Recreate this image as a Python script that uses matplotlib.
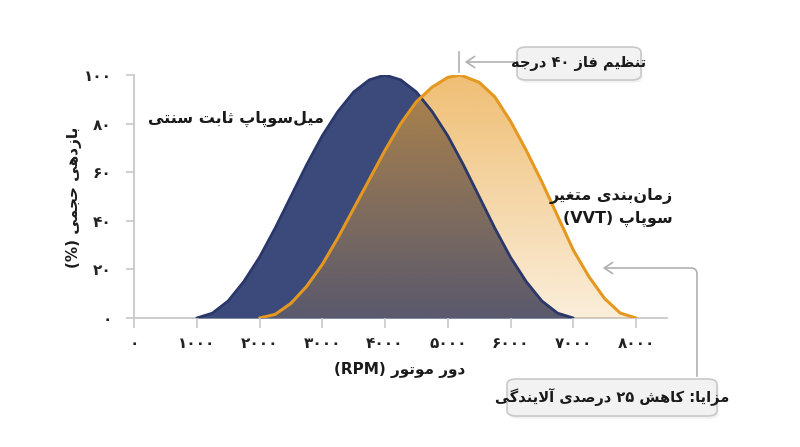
import matplotlib
matplotlib.use("Agg")
import matplotlib.pyplot as plt
import numpy as np
from matplotlib.patches import FancyBboxPatch, Polygon, FancyArrowPatch
from matplotlib.colors import to_rgb

# ---------------- data ----------------
rpm_fixed = [1000,1250,1500,1750,2000,2250,2500,2750,3000,3250,3500,3750,4000,
             4250,4500,4750,5000,5250,5500,5750,6000,6250,6500,6750,7000]
eff_fixed = [0,2,7,15,25,37,50,63,75,85,93,98,100,98,93,85,75,63,50,37,25,15,7,2,0]
rpm_vvt = [2000,2250,2500,2750,3000,3250,3500,3750,4000,4250,4500,4750,5000,5200,
           5500,5750,6000,6250,6500,6750,7000,7250,7500,7750,8000]
eff_vvt = [0,1.5,6,13,22,33,45,57,69,80,89,95,99,100,97,91,81,69,56,42,28,17,8,2,0]
x_ticks = [0,1000,2000,3000,4000,5000,6000,7000,8000]
y_ticks = [0,20,40,60,80,100]

# ---------------- minimal Persian shaping ----------------
FORMS = {
 '\u0627':('\uFE8D','\uFE8E',None,None), '\u0622':('\uFE81','\uFE82',None,None),
 '\u0628':('\uFE8F','\uFE90','\uFE91','\uFE92'), '\u067E':('\uFB56','\uFB57','\uFB58','\uFB59'),
 '\u062A':('\uFE95','\uFE96','\uFE97','\uFE98'), '\u062B':('\uFE99','\uFE9A','\uFE9B','\uFE9C'),
 '\u062C':('\uFE9D','\uFE9E','\uFE9F','\uFEA0'), '\u0686':('\uFB7A','\uFB7B','\uFB7C','\uFB7D'),
 '\u062D':('\uFEA1','\uFEA2','\uFEA3','\uFEA4'), '\u062E':('\uFEA5','\uFEA6','\uFEA7','\uFEA8'),
 '\u062F':('\uFEA9','\uFEAA',None,None), '\u0630':('\uFEAB','\uFEAC',None,None),
 '\u0631':('\uFEAD','\uFEAE',None,None), '\u0632':('\uFEAF','\uFEB0',None,None),
 '\u0698':('\uFB8A','\uFB8B',None,None),
 '\u0633':('\uFEB1','\uFEB2','\uFEB3','\uFEB4'), '\u0634':('\uFEB5','\uFEB6','\uFEB7','\uFEB8'),
 '\u0635':('\uFEB9','\uFEBA','\uFEBB','\uFEBC'), '\u0636':('\uFEBD','\uFEBE','\uFEBF','\uFEC0'),
 '\u0637':('\uFEC1','\uFEC2','\uFEC3','\uFEC4'), '\u0638':('\uFEC5','\uFEC6','\uFEC7','\uFEC8'),
 '\u0639':('\uFEC9','\uFECA','\uFECB','\uFECC'), '\u063A':('\uFECD','\uFECE','\uFECF','\uFED0'),
 '\u0641':('\uFED1','\uFED2','\uFED3','\uFED4'), '\u0642':('\uFED5','\uFED6','\uFED7','\uFED8'),
 '\u06A9':('\uFB8E','\uFB8F','\uFB90','\uFB91'), '\u06AF':('\uFB92','\uFB93','\uFB94','\uFB95'),
 '\u0644':('\uFEDD','\uFEDE','\uFEDF','\uFEE0'), '\u0645':('\uFEE1','\uFEE2','\uFEE3','\uFEE4'),
 '\u0646':('\uFEE5','\uFEE6','\uFEE7','\uFEE8'), '\u0648':('\uFEED','\uFEEE',None,None),
 '\u0647':('\uFEE9','\uFEEA','\uFEEB','\uFEEC'), '\u06CC':('\uFBFC','\uFBFD','\uFBFE','\uFBFF'),
}
LAMALEF = {'\u0627':('\uFEFB','\uFEFC'), '\u0622':('\uFEF5','\uFEF6')}

def shape(s):
    chars = list(s)
    out = []
    i = 0
    n = len(chars)
    def joins_next(c):
        return c in FORMS and FORMS[c][2] is not None
    while i < n:
        c = chars[i]
        if c not in FORMS:
            if c != '\u200C':
                out.append(c)
            i += 1
            continue
        prev = chars[i-1] if i > 0 else None
        pj = prev is not None and joins_next(prev)
        if c == '\u0644' and i + 1 < n and chars[i+1] in LAMALEF:
            out.append(LAMALEF[chars[i+1]][1 if pj else 0])
            i += 2
            continue
        nxt = chars[i+1] if i + 1 < n else None
        nj = nxt in FORMS and FORMS[c][2] is not None
        iso, fin, ini, med = FORMS[c]
        if pj and nj: out.append(med)
        elif pj: out.append(fin)
        elif nj: out.append(ini)
        else: out.append(iso)
        i += 1
    rev = out[::-1]
    def is_ltr(ch):
        return ch.isascii() and ch.isalnum() or ('\u06F0' <= ch <= '\u06F9')
    res = []
    j = 0
    while j < len(rev):
        if is_ltr(rev[j]):
            k = j
            while k < len(rev) and is_ltr(rev[k]):
                k += 1
            res.extend(rev[j:k][::-1])
            j = k
        else:
            ch = rev[j]
            res.append({'(':')', ')':'('}.get(ch, ch))
            j += 1
    return ''.join(res)

def fa_digits(v):
    return str(v).translate(str.maketrans('0123456789', '۰۱۲۳۴۵۶۷۸۹'))

plt.rcParams['font.family'] = ['DejaVu Sans']

W, H = 800, 447
fig = plt.figure(figsize=(8, 4.47), dpi=100)
ax = fig.add_axes([134/W, 1-318/H, (667-134)/W, (318-75)/H])
ax.set_xlim(0, 8494)
ax.set_ylim(0, 100)

navy = '#3b4a7a'
orange = '#e8a032'

ax.fill_between(rpm_fixed, eff_fixed, 0, color=navy, lw=0, zorder=1)

# orange fill with alpha gradient, on top of navy
verts = list(zip(rpm_vvt, eff_vvt))
poly = Polygon(verts, closed=True, facecolor='none', edgecolor='none')
ax.add_patch(poly)
rgba = np.zeros((256, 1, 4))
rgba[..., :3] = to_rgb(orange)
rgba[:, 0, 3] = np.linspace(0.18, 0.68, 256)
im = ax.imshow(rgba, extent=[2000, 8000, 0, 100], origin='lower',
               aspect='auto', zorder=2, interpolation='bilinear')
im.set_clip_path(poly)

ax.plot(rpm_fixed, eff_fixed, color='#2a376a', lw=2, zorder=3, solid_capstyle='round')
ax.plot(rpm_vvt, eff_vvt, color='#e5981f', lw=2.2, zorder=4, solid_capstyle='round')

for sp in ['top', 'right']:
    ax.spines[sp].set_visible(False)
for sp in ['left', 'bottom']:
    ax.spines[sp].set_color('#c8c8c8')
    ax.spines[sp].set_linewidth(1.3)
ax.spines['bottom'].set_zorder(0)

ax.set_xticks(x_ticks)
ax.set_xticklabels([fa_digits(v) for v in x_ticks], fontsize=11, fontweight='bold', color='#222')
ax.set_yticks(y_ticks)
ax.set_yticklabels([fa_digits(v) for v in y_ticks], fontsize=11, fontweight='bold', color='#222')
ax.tick_params(axis='x', length=7, width=1.2, color='#c8c8c8', pad=6)
ax.tick_params(axis='y', length=6, width=1.2, color='#c8c8c8', pad=10)

def px(x, y):
    return x / W, 1 - y / H

bold = dict(fontweight='bold', color='#1a1a1a')
fig.text(*px(400, 370), shape('دور موتور (RPM)'), ha='center', va='center', fontsize=11, **bold)
fig.text(*px(74, 197), shape('بازدهی حجمی (%)'), ha='center', va='center', fontsize=11,
         rotation=90, **bold)
fig.text(*px(324, 119), shape('میل\u200Cسوپاپ ثابت سنتی'), ha='right', va='center', fontsize=11.5, **bold)
fig.text(*px(673, 196), shape('زمان\u200Cبندی متغیر'), ha='right', va='center', fontsize=11.5, **bold)
fig.text(*px(673, 219), shape('سوپاپ (VVT)'), ha='right', va='center', fontsize=11.5, **bold)

def box(x0, y0, x1, y1, text):
    fx0, fy1 = px(x0, y1)
    fx1, fy0 = px(x1, y0)
    sh = FancyBboxPatch((fx0 + 0.002, fy1 - 0.006), fx1 - fx0, fy0 - fy1,
                        boxstyle='round,pad=0,rounding_size=0.012', transform=fig.transFigure,
                        facecolor='#000000', alpha=0.06, edgecolor='none', zorder=5)
    fig.patches.append(sh)
    b = FancyBboxPatch((fx0, fy1), fx1 - fx0, fy0 - fy1,
                       boxstyle='round,pad=0,rounding_size=0.012', transform=fig.transFigure,
                       facecolor='#f2f2f2', edgecolor='#c9c9c9', lw=1.2, zorder=6)
    fig.patches.append(b)
    fig.text((fx0 + fx1) / 2, (fy0 + fy1) / 2, shape(text), ha='center', va='center',
             fontsize=10.5, zorder=7, **bold)

box(517, 47, 641, 80, 'تنظیم فاز ۴۰ درجه')
box(507, 379, 717, 416, 'مزایا: کاهش ۲۵ درصدی آلایندگی')

gray = '#b0b0b0'
fig.add_artist(plt.Line2D([px(459, 0)[0]] * 2, [px(0, 52)[1], px(0, 72)[1]], color=gray, lw=1.2,
                          transform=fig.transFigure))
fig.patches.append(FancyArrowPatch(px(517, 62), px(462, 62), transform=fig.transFigure,
                                   arrowstyle='->,head_width=4,head_length=6', color=gray, lw=1.2))
fig.patches.append(FancyArrowPatch(px(697, 379), px(600, 268), transform=fig.transFigure,
                                   connectionstyle='angle,angleA=90,angleB=0,rad=6',
                                   arrowstyle='->,head_width=4,head_length=6', color=gray, lw=1.2))

fig.savefig('out.png', dpi=100, facecolor='white')
